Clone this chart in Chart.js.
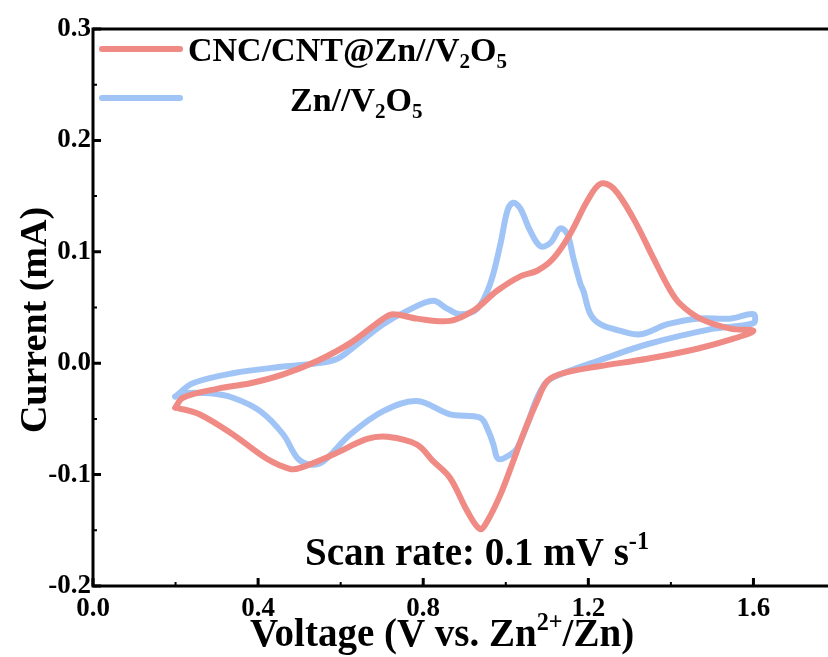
<!DOCTYPE html>
<html>
<head>
<meta charset="utf-8">
<script src="https://cdn.jsdelivr.net/npm/chart.js@4.4.1/dist/chart.umd.min.js"></script>
<style>
html, body { margin: 0; padding: 0; background: #fff; overflow: hidden; }
</style>
</head>
<body>
<canvas id="cvChart" width="845" height="657"></canvas>
<script>
// CV curves: voltage (V) and current (mA), loop order
const redV = [0.199, 0.218, 0.30, 0.381, 0.461, 0.543, 0.623, 0.703, 0.727, 0.785, 0.865, 0.921, 0.979, 1.035, 1.076, 1.115, 1.156, 1.198, 1.229, 1.261, 1.309, 1.358, 1.399, 1.423, 1.471, 1.544, 1.60,
  1.552, 1.464, 1.343, 1.222, 1.139, 1.101, 1.076, 1.042, 1.018, 0.987, 0.955, 0.938, 0.907, 0.865, 0.824, 0.785, 0.713, 0.664, 0.582, 0.502, 0.478, 0.422, 0.339, 0.259, 0.204];
const redI = [-0.040, -0.031, -0.023, -0.018, -0.010, 0.002, 0.018, 0.040, 0.044, 0.040, 0.038, 0.047, 0.065, 0.078, 0.083, 0.094, 0.116, 0.146, 0.161, 0.157, 0.130, 0.094, 0.065, 0.053, 0.040, 0.031, 0.029,
  0.022, 0.013, 0.004, -0.003, -0.009, -0.016, -0.034, -0.064, -0.088, -0.118, -0.142, -0.149, -0.133, -0.103, -0.088, -0.073, -0.066, -0.068, -0.082, -0.094, -0.095, -0.086, -0.064, -0.046, -0.040];

const blueV = [0.199, 0.242, 0.339, 0.461, 0.543, 0.592, 0.640, 0.703, 0.761, 0.824, 0.858, 0.890, 0.931, 0.962, 0.987, 1.004, 1.018, 1.035, 1.059, 1.084, 1.108, 1.132, 1.149, 1.164, 1.181, 1.188, 1.205, 1.229, 1.278, 1.326, 1.392, 1.464, 1.544, 1.60,
  1.60, 1.503, 1.343, 1.222, 1.139, 1.101, 1.076, 1.052, 1.028, 1.011, 0.982, 0.970, 0.958, 0.938, 0.865, 0.785, 0.703, 0.623, 0.558, 0.526, 0.495, 0.461, 0.405, 0.339, 0.284, 0.218, 0.199];
const blueI = [-0.030, -0.018, -0.009, -0.003, 0.000, 0.004, 0.017, 0.035, 0.047, 0.056, 0.049, 0.044, 0.049, 0.071, 0.107, 0.137, 0.144, 0.139, 0.119, 0.105, 0.108, 0.121, 0.116, 0.094, 0.071, 0.065, 0.044, 0.035, 0.029, 0.026, 0.035, 0.040, 0.040, 0.044,
  0.036, 0.031, 0.017, 0.002, -0.009, -0.016, -0.031, -0.055, -0.076, -0.082, -0.086, -0.073, -0.061, -0.049, -0.046, -0.034, -0.043, -0.064, -0.088, -0.091, -0.085, -0.064, -0.043, -0.031, -0.027, -0.027, -0.030];

const xTicks = [0.0, 0.4, 0.8, 1.2, 1.6];
const yTicks = [-0.2, -0.1, 0.0, 0.1, 0.2, 0.3];
const xMinor = [0.2, 0.6, 1.0, 1.4];
const yMinor = [-0.15, -0.05, 0.05, 0.15, 0.25];

const RED = 'rgb(240,138,132)';
const BLUE = 'rgb(160,196,245)';
const FONT = '"Liberation Serif", "Times New Roman", serif';

function toPoints(xs, ys) {
    return xs.map((x, i) => ({ x: x, y: ys[i] }));
}

// draws text with sub/superscript pieces: [text, mode] where mode 1 = sup, -1 = sub
function drawRich(ctx, parts, x, y, size) {
    let cx = x;
    ctx.textAlign = 'left';
    ctx.textBaseline = 'alphabetic';
    for (const [t, m] of parts) {
        const s = m ? size * 0.62 : size;
        ctx.font = 'bold ' + s + 'px ' + FONT;
        const dy = m === 1 ? -size * 0.4 : (m === -1 ? size * 0.22 : 0);
        ctx.fillText(t, cx, y + dy);
        cx += ctx.measureText(t).width;
    }
}

// frame, inward ticks, legend and the text labels
const decorPlugin = {
    id: 'decor',
    afterDraw(chart) {
        const ctx = chart.ctx;
        const a = chart.chartArea;
        const xs = chart.scales.x, ys = chart.scales.y;
        ctx.save();
        ctx.strokeStyle = '#000';
        ctx.lineWidth = 3;
        ctx.strokeRect(a.left, a.top, a.right - a.left, a.bottom - a.top);

        ctx.beginPath();
        xTicks.forEach(v => { const p = xs.getPixelForValue(v); ctx.moveTo(p, a.bottom); ctx.lineTo(p, a.bottom - 8); });
        yTicks.forEach(v => { const p = ys.getPixelForValue(v); ctx.moveTo(a.left, p); ctx.lineTo(a.left + 8, p); });
        ctx.stroke();
        ctx.lineWidth = 2;
        ctx.beginPath();
        xMinor.forEach(v => { const p = xs.getPixelForValue(v); ctx.moveTo(p, a.bottom); ctx.lineTo(p, a.bottom - 4); });
        yMinor.forEach(v => { const p = ys.getPixelForValue(v); ctx.moveTo(a.left, p); ctx.lineTo(a.left + 4, p); });
        ctx.stroke();

        // legend
        ctx.lineCap = 'round';
        ctx.lineWidth = 6;
        ctx.strokeStyle = RED;
        ctx.beginPath(); ctx.moveTo(102, 49); ctx.lineTo(180, 49); ctx.stroke();
        ctx.strokeStyle = BLUE;
        ctx.beginPath(); ctx.moveTo(102, 98); ctx.lineTo(180, 98); ctx.stroke();

        ctx.fillStyle = '#000';
        drawRich(ctx, [['CNC/CNT@Zn//V', 0], ['2', -1], ['O', 0], ['5', -1]], 188, 61, 34);
        drawRich(ctx, [['Zn//V', 0], ['2', -1], ['O', 0], ['5', -1]], 290, 111, 34);

        drawRich(ctx, [['Scan rate: 0.1 mV s', 0], ['-1', 1]], 305, 565, 39);
        drawRich(ctx, [['Voltage (V vs. Zn', 0], ['2+', 1], ['/Zn)', 0]], 250, 646, 39);

        // y title, rotated
        ctx.translate(46, 320);
        ctx.rotate(-Math.PI / 2);
        ctx.font = 'bold 38px ' + FONT;
        ctx.textAlign = 'center';
        ctx.fillText('Current (mA)', 0, 0);
        ctx.restore();
    }
};

new Chart(document.getElementById('cvChart'), {
    type: 'scatter',
    data: {
        datasets: [
            {
                label: 'CNC/CNT@Zn//V2O5',
                data: toPoints(redV, redI),
                showLine: true,
                borderColor: RED,
                borderWidth: 6,
                pointRadius: 0,
                tension: 0.35,
                borderJoinStyle: 'round',
                borderCapStyle: 'round',
            },
            {
                label: 'Zn//V2O5',
                data: toPoints(blueV, blueI),
                showLine: true,
                borderColor: BLUE,
                borderWidth: 6,
                pointRadius: 0,
                tension: 0.35,
                borderJoinStyle: 'round',
                borderCapStyle: 'round',
            },
        ],
    },
    options: {
        responsive: false,
        animation: false,
        devicePixelRatio: 1,
        layout: { padding: { left: 0, top: 29, right: 9, bottom: 0 } },
        plugins: { legend: { display: false }, tooltip: { enabled: false } },
        scales: {
            x: {
                type: 'linear',
                min: 0,
                max: 1.8,
                afterBuildTicks: s => { s.ticks = xTicks.map(v => ({ value: v })); },
                afterFit: s => { s.height = 71; },
                grid: { display: false, drawTicks: false },
                border: { display: false },
                ticks: {
                    padding: 7,
                    color: '#000',
                    font: { family: FONT, weight: 'bold', size: 27 },
                    callback: v => v.toFixed(1),
                },
            },
            y: {
                type: 'linear',
                min: -0.2,
                max: 0.3,
                afterBuildTicks: s => { s.ticks = yTicks.map(v => ({ value: v })); },
                afterFit: s => { s.width = 93; },
                grid: { display: false, drawTicks: false },
                border: { display: false },
                ticks: {
                    padding: 2,
                    color: '#000',
                    font: { family: FONT, weight: 'bold', size: 27 },
                    callback: v => v.toFixed(1),
                },
            },
        },
    },
    plugins: [decorPlugin],
});
</script>
</body>
</html>
